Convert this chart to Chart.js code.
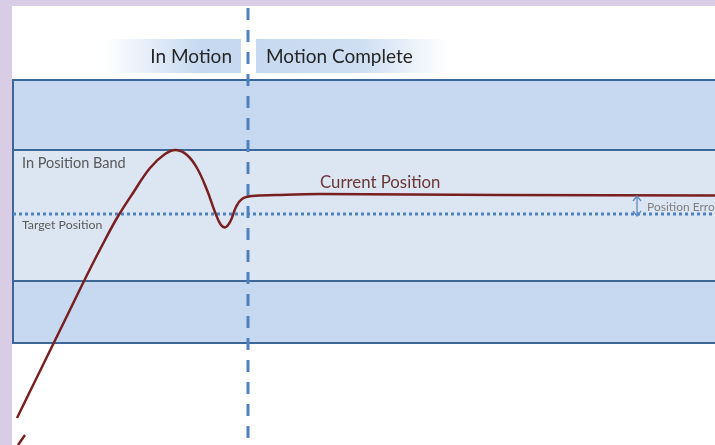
<!DOCTYPE html>
<html>
<head>
<meta charset="utf-8">
<script src="https://cdn.jsdelivr.net/npm/chart.js@4/dist/chart.umd.min.js"></script>
<style>
  html, body { margin: 0; padding: 0; background: #d9cde6; }
  #wrap { width: 715px; height: 445px; position: relative; }
</style>
</head>
<body>
<div id="wrap"><canvas id="c"></canvas></div>
<script>
// Settling response of the axis: time on x, position relative to target on y
const timeX = [17, 40, 65, 90, 105, 117, 133, 150, 165, 176, 187, 197, 207, 215, 221, 226, 231, 236, 242, 252, 275, 320, 500, 715];
const positionY = [-204, -157, -106, -55, -26, -4, 21, 46, 60, 64, 59, 46, 24, 2, -11, -13, -6, 7, 15, 18, 19, 20, 19, 18.5];

// Short trace entering at the bottom-left
const tailX = [18, 25];
const tailY = [-231, -221];

// Target position and the in-position band limits
const targetPosition = 0;
const bandEdges = [134, 64, -67, -129];   // outer top, band top, band bottom, outer bottom
const motionCompleteTime = 248;
const errorMarkTime = 637;
const settledPosition = 19;

const xRange = [0, 715];
const yRange = [-231, 214];

const curve = timeX.map((x, i) => ({ x, y: positionY[i] }));
const tail = tailX.map((x, i) => ({ x, y: tailY[i] }));

const BLUE = '#4f81bd';
const EDGE = '#3d6799';
const FONT = 'Lato, "Open Sans", sans-serif';

const scenePlugin = {
  id: 'scene',
  beforeDraw(chart) {
    const { ctx, width, height } = chart;
    ctx.save();
    ctx.fillStyle = '#d9cde6';
    ctx.fillRect(0, 0, width, height);
    ctx.fillStyle = '#ffffff';
    ctx.fillRect(12, 6, width - 12, height - 6);
    ctx.restore();
  },
  beforeDatasetsDraw(chart) {
    const { ctx, scales: { x, y } } = chart;
    const left = x.getPixelForValue(13);
    const right = x.getPixelForValue(xRange[1]) + 10;
    const py = bandEdges.map(v => y.getPixelForValue(v));
    ctx.save();
    // outer zones
    ctx.fillStyle = '#c6d9f0';
    ctx.fillRect(left, py[0], right - left, py[3] - py[0]);
    // in-position band
    ctx.fillStyle = '#dce6f2';
    ctx.fillRect(left, py[1], right - left, py[2] - py[1]);
    // edges
    ctx.strokeStyle = EDGE;
    ctx.lineWidth = 2;
    ctx.beginPath();
    py.forEach(p => { ctx.moveTo(left, p); ctx.lineTo(right, p); });
    ctx.moveTo(left, py[0] - 1);
    ctx.lineTo(left, py[3] + 1);
    ctx.stroke();

    // phase headers
    const hTop = 39, hBot = 73;
    const split = x.getPixelForValue(motionCompleteTime);
    let g = ctx.createLinearGradient(104, 0, 200, 0);
    g.addColorStop(0, 'rgba(198,217,240,0)');
    g.addColorStop(1, 'rgba(198,217,240,1)');
    ctx.fillStyle = g;
    ctx.fillRect(104, hTop, split - 7 - 104, hBot - hTop);
    g = ctx.createLinearGradient(split + 8, 0, 448, 0);
    g.addColorStop(0, 'rgba(198,217,240,1)');
    g.addColorStop(0.55, 'rgba(198,217,240,0.85)');
    g.addColorStop(1, 'rgba(198,217,240,0)');
    ctx.fillStyle = g;
    ctx.fillRect(split + 8, hTop, 448 - split - 8, hBot - hTop);

    ctx.fillStyle = '#262626';
    ctx.font = '19px ' + FONT;
    ctx.textBaseline = 'middle';
    ctx.textAlign = 'right';
    ctx.fillText('In Motion', split - 16, 57);
    ctx.textAlign = 'left';
    ctx.fillText('Motion Complete', split + 18, 57);
    ctx.restore();
  },
  afterDatasetsDraw(chart) {
    const { ctx, scales: { x, y } } = chart;
    ctx.save();
    ctx.textBaseline = 'middle';
    ctx.textAlign = 'left';

    ctx.fillStyle = '#595959';
    ctx.font = '14.5px ' + FONT;
    ctx.fillText('In Position Band', 22, y.getPixelForValue(bandEdges[1]) + 13);

    ctx.font = '12.3px ' + FONT;
    ctx.fillText('Target Position', 22, y.getPixelForValue(targetPosition) + 11);

    ctx.fillStyle = '#6b3636';
    ctx.font = '16.8px ' + FONT;
    ctx.fillText('Current Position', 320, y.getPixelForValue(settledPosition) - 12);

    // position error marker
    const ax = x.getPixelForValue(errorMarkTime);
    const a1 = y.getPixelForValue(settledPosition) + 1;
    const a2 = y.getPixelForValue(targetPosition) + 2;
    ctx.strokeStyle = '#5b8bc5';
    ctx.lineWidth = 1.3;
    ctx.beginPath();
    ctx.moveTo(ax, a1); ctx.lineTo(ax, a2);
    ctx.moveTo(ax - 4, a1 + 5); ctx.lineTo(ax, a1); ctx.lineTo(ax + 4, a1 + 5);
    ctx.moveTo(ax - 4, a2 - 5); ctx.lineTo(ax, a2); ctx.lineTo(ax + 4, a2 - 5);
    ctx.stroke();

    ctx.fillStyle = '#7f7f7f';
    ctx.font = '12px ' + FONT;
    ctx.fillText('Position Error', ax + 10, (a1 + a2) / 2 + 1);
    ctx.restore();
  }
};

new Chart(document.getElementById('c'), {
  type: 'line',
  data: {
    datasets: [
      {
        label: 'Target Position',
        data: [{ x: 13, y: targetPosition }, { x: xRange[1], y: targetPosition }],
        borderColor: BLUE,
        borderWidth: 3,
        borderDash: [3, 3],
        pointRadius: 0,
        order: 3
      },
      {
        label: 'Motion Complete',
        data: [{ x: motionCompleteTime, y: yRange[1] - 8 }, { x: motionCompleteTime, y: yRange[0] }],
        borderColor: BLUE,
        borderWidth: 3,
        borderDash: [12, 10],
        pointRadius: 0,
        order: 2
      },
      {
        label: 'Current Position',
        data: curve,
        borderColor: '#7a1f1f',
        borderWidth: 2.5,
        pointRadius: 0,
        tension: 0.4,
        order: 1
      },
      {
        label: 'Trace',
        data: tail,
        borderColor: '#7a1f1f',
        borderWidth: 2.5,
        pointRadius: 0,
        order: 1
      }
    ]
  },
  options: {
    responsive: true,
    maintainAspectRatio: false,
    animation: false,
    layout: { padding: 0 },
    plugins: { legend: { display: false }, tooltip: { enabled: false } },
    scales: {
      x: { type: 'linear', min: xRange[0], max: xRange[1], display: false },
      y: { type: 'linear', min: yRange[0], max: yRange[1], display: false }
    }
  },
  plugins: [scenePlugin]
});
</script>
</body>
</html>
